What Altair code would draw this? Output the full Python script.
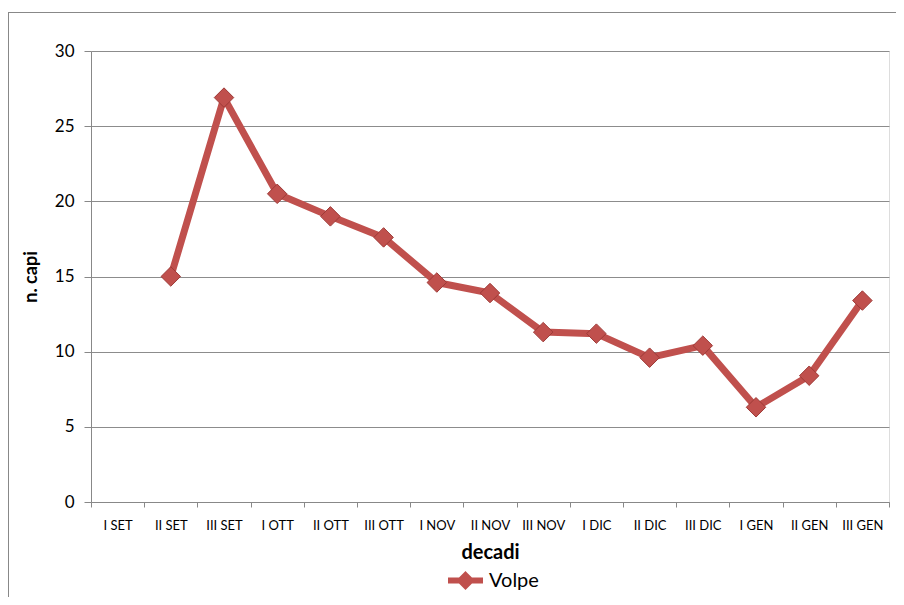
import altair as alt
import pandas as pd

categories = ["I SET", "II SET", "III SET", "I OTT", "II OTT", "III OTT", "I NOV",
              "II NOV", "III NOV", "I DIC", "II DIC", "III DIC", "I GEN", "II GEN", "III GEN"]
volpe = [None, 15.0, 26.9, 20.5, 19.0, 17.6, 14.6, 13.9, 11.3, 11.2, 9.6, 10.4, 6.3, 8.4, 13.4]
series_name = "Volpe"
y_ticks = [0, 5, 10, 15, 20, 25, 30]

FONT = "Lato"
RED = "#C0504D"

df = pd.DataFrame({"decade": categories, "value": volpe, "series": [series_name] * len(categories)})

W, H = 798, 451

line = alt.Chart(df).mark_line(
    strokeWidth=7, strokeJoin="round",
    point=alt.OverlayMarkDef(shape="diamond", size=380, filled=True, fill=RED,
                             stroke="#9E3A37", strokeWidth=1, opacity=1),
).encode(
    x=alt.X("decade:N", sort=categories,
            scale=alt.Scale(domain=categories, type="band", paddingInner=0, paddingOuter=0),
            axis=alt.Axis(title="decadi", tickBand="extent", labelAngle=0, labelFontSize=13,
                          labelFont=FONT, labelColor="#000", labelPadding=12, tickSize=5,
                          tickColor="#888", domainColor="#888", titleFont=FONT,
                          titleFontSize=20, titleFontWeight="bold", titlePadding=10,
                          titleColor="#000", grid=False)),
    y=alt.Y("value:Q", scale=alt.Scale(domain=[0, 30], nice=False, zero=True),
            axis=alt.Axis(title="n. capi", values=y_ticks, labelFontSize=17, labelFont=FONT,
                          labelColor="#000", labelPadding=10, tickSize=7, tickColor="#888",
                          domainColor="#888", gridColor="#8c8c8c", gridWidth=1,
                          titleFont=FONT, titleFontSize=18, titleFontWeight="bold",
                          titleColor="#000", titlePadding=14)),
    color=alt.Color("series:N", scale=alt.Scale(range=[RED]),
                    legend=alt.Legend(title=None, orient="none", legendX=354, legendY=509,
                                      padding=0,
                                      symbolType="M-1,0H1M0,-0.3L0.3,0L0,0.3L-0.3,0Z",
                                      symbolSize=1225, symbolStrokeWidth=6,
                                      symbolFillColor=RED, symbolStrokeColor=RED,
                                      labelFont=FONT, labelFontSize=20, labelColor="#000",
                                      labelOffset=3)),
)

border_df = pd.DataFrame({"a": [0]})
top_border = alt.Chart(border_df).mark_rule(color="#888", strokeWidth=1).encode(
    x=alt.value(-83), x2=alt.value(820), y=alt.value(-38.5))
left_border = alt.Chart(border_df).mark_rule(color="#888", strokeWidth=1).encode(
    x=alt.value(-82.5), y=alt.value(-39), y2=alt.value(560))

chart = alt.layer(line, top_border, left_border).properties(
    width=W, height=H,
    autosize=alt.AutoSizeParams(type="none"),
    padding={"left": 83, "top": 43, "right": 7, "bottom": 95},
).configure_view(stroke=None).configure(background="white")

chart.save("out.html", embed_options={"renderer": "svg", "actions": False})
